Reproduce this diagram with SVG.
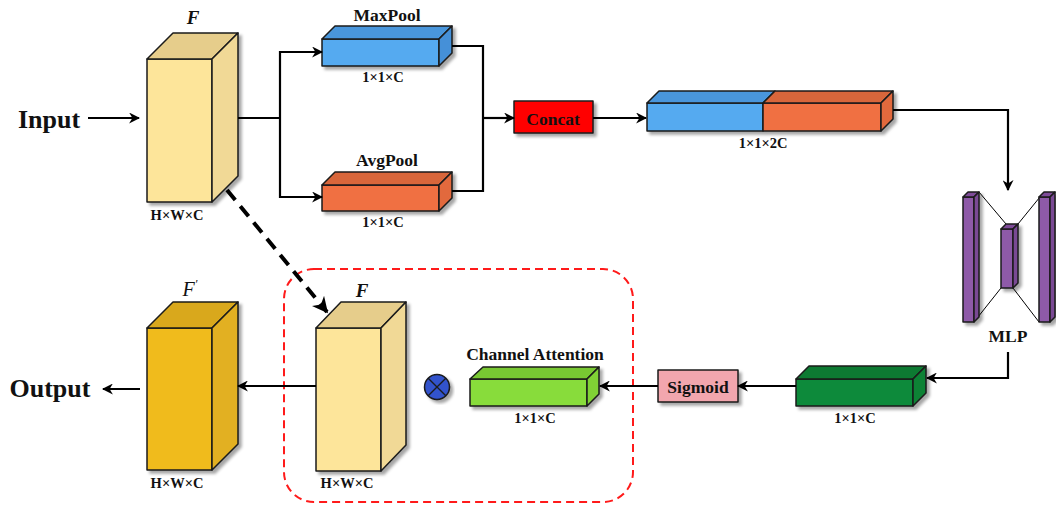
<svg xmlns="http://www.w3.org/2000/svg" width="1056" height="505" viewBox="0 0 1056 505">
<defs>
<filter id="sh" x="-20%" y="-20%" width="140%" height="140%"><feDropShadow dx="3" dy="3" stdDeviation="1.5" flood-color="#000" flood-opacity="0.35"/></filter>
<marker id="ah" viewBox="0 0 10 10" refX="9" refY="5" markerWidth="11" markerHeight="11" orient="auto" markerUnits="userSpaceOnUse"><path d="M0,0 L10,5 L0,10 L3,5 z" fill="#000"/></marker>
<marker id="ahb" viewBox="0 0 10 10" refX="9" refY="5" markerWidth="4" markerHeight="4" orient="auto"><path d="M0,0 L10,5 L0,10 L3,5 z" fill="#000"/></marker>
</defs>
<style>
.e{stroke:#1a1a1a;stroke-width:1.5;stroke-linejoin:round}
.t{font-family:"Liberation Serif",serif;font-weight:bold;fill:#111;text-anchor:middle}
.big{font-size:26px}
.lab{font-size:17.5px}
.dim{font-size:14.5px}
.it{font-style:italic;font-size:19px}
.c{fill:none;stroke:#000;stroke-width:2.2}
.thin{stroke:#000;stroke-width:1;fill:none}
</style>

<g id="input-label"><text class="t big" x="49" y="128">Input</text></g>
<g id="output-label"><text class="t big" x="50" y="397">Output</text></g>

<g id="cube-F-in" filter="url(#sh)">
<rect class="e" x="147" y="59" width="65" height="143" fill="#fde59a"/>
<polygon class="e" points="147,59 173,33 238,33 212,59" fill="#e6cd8b"/>
<polygon class="e" points="212,59 238,33 238,176 212,202" fill="#f1d996"/>
</g>
<text class="t it" x="193" y="24">F</text>
<text class="t dim" x="177" y="220">H×W×C</text>

<g id="maxpool" filter="url(#sh)">
<rect class="e" x="322" y="39" width="117" height="27" fill="#55aaf0"/>
<polygon class="e" points="322,39 335,26 452,26 439,39" fill="#4a96dc"/>
<polygon class="e" points="439,39 452,26 452,53 439,66" fill="#4590d8"/>
</g>
<text class="t lab" x="387" y="21">MaxPool</text>
<text class="t dim" x="383" y="82">1×1×C</text>

<g id="avgpool" filter="url(#sh)">
<rect class="e" x="322" y="185" width="117" height="26" fill="#f07042"/>
<polygon class="e" points="322,185 335,172 452,172 439,185" fill="#d8663a"/>
<polygon class="e" points="439,185 452,172 452,198 439,211" fill="#e2693d"/>
</g>
<text class="t lab" x="387" y="166">AvgPool</text>
<text class="t dim" x="383" y="227">1×1×C</text>

<g id="concat" filter="url(#sh)">
<rect class="e" x="514" y="101" width="79" height="32" fill="#ff0000"/>
</g>
<text class="t lab" x="553" y="125">Concat</text>

<g id="concat-out" filter="url(#sh)">
<rect class="e" x="647" y="103" width="116" height="28" fill="#55aaf0"/>
<rect class="e" x="763" y="103" width="118" height="28" fill="#f07042"/>
<polygon class="e" points="647,103 659,91 775,91 763,103" fill="#4a96dc"/>
<polygon class="e" points="763,103 775,91 893,91 881,103" fill="#d8663a"/>
<polygon class="e" points="881,103 893,91 893,119 881,131" fill="#e2693d"/>
</g>
<text class="t dim" x="763" y="148">1×1×2C</text>

<g id="mlp">
<line class="thin" x1="979" y1="192" x2="1006" y2="224"/>
<line class="thin" x1="974" y1="322" x2="1001" y2="288"/>
<line class="thin" x1="1018" y1="224" x2="1044" y2="192"/>
<line class="thin" x1="1013" y1="288" x2="1039" y2="322"/>
<g filter="url(#sh)">
<rect class="e" x="963" y="197" width="11" height="125" fill="#8e5aa8"/>
<polygon class="e" points="963,197 968,192 979,192 974,197" fill="#7e4c98"/>
<polygon class="e" points="974,197 979,192 979,317 974,322" fill="#7a4894"/>
<rect class="e" x="1001" y="229" width="12" height="59" fill="#8e5aa8"/>
<polygon class="e" points="1001,229 1006,224 1018,224 1013,229" fill="#7e4c98"/>
<polygon class="e" points="1013,229 1018,224 1018,283 1013,288" fill="#7a4894"/>
<rect class="e" x="1039" y="197" width="11" height="125" fill="#8e5aa8"/>
<polygon class="e" points="1039,197 1044,192 1055,192 1050,197" fill="#7e4c98"/>
<polygon class="e" points="1050,197 1055,192 1055,317 1050,322" fill="#7a4894"/>
</g>
<text class="t lab" x="1008" y="342">MLP</text>
</g>

<g id="mlp-out" filter="url(#sh)">
<rect class="e" x="796" y="379" width="117" height="27" fill="#0b8a3a"/>
<polygon class="e" points="796,379 809,366 926,366 913,379" fill="#097a33"/>
<polygon class="e" points="913,379 926,366 926,393 913,406" fill="#0a8236"/>
</g>
<text class="t dim" x="855" y="423">1×1×C</text>

<g id="sigmoid" filter="url(#sh)">
<rect class="e" x="658" y="370" width="80" height="32" fill="#f2a6ae"/>
</g>
<text class="t lab" x="698" y="393">Sigmoid</text>

<g id="channel-attention" filter="url(#sh)">
<rect class="e" x="470" y="379" width="117" height="27" fill="#88dc3a"/>
<polygon class="e" points="470,379 483,367 599,367 587,379" fill="#78c830"/>
<polygon class="e" points="587,379 599,367 599,394 587,406" fill="#80d236"/>
</g>
<text class="t lab" x="535" y="360">Channel Attention</text>
<text class="t dim" x="535" y="423">1×1×C</text>

<g id="multiply" filter="url(#sh)">
<circle cx="437" cy="387" r="12.5" fill="#3352cc" stroke="#1a1a1a" stroke-width="1.5"/>
<line x1="428.2" y1="378.2" x2="445.8" y2="395.8" stroke="#1a1a1a" stroke-width="1.3"/>
<line x1="445.8" y1="378.2" x2="428.2" y2="395.8" stroke="#1a1a1a" stroke-width="1.3"/>
</g>

<g id="cube-F-mid" filter="url(#sh)">
<rect class="e" x="316" y="328" width="65" height="143" fill="#fde59a"/>
<polygon class="e" points="316,328 341,302 406,302 381,328" fill="#e6cd8b"/>
<polygon class="e" points="381,328 406,302 406,445 381,471" fill="#f1d996"/>
</g>
<text class="t it" x="362" y="297">F</text>
<text class="t dim" x="347" y="488">H×W×C</text>

<g id="cube-F-out" filter="url(#sh)">
<rect class="e" x="147" y="328" width="65" height="142" fill="#f0bb1f"/>
<polygon class="e" points="147,328 173,302 238,302 212,328" fill="#d9a81b"/>
<polygon class="e" points="212,328 238,302 238,444 212,470" fill="#e2b021"/>
</g>
<text x="190" y="296" font-family="Liberation Serif, serif" font-style="italic" font-size="20" fill="#111" text-anchor="middle">F<tspan font-size="12" dy="-8">′</tspan></text>
<text class="t dim" x="177" y="488">H×W×C</text>

<g id="attention-box">
<rect x="284" y="269" width="349" height="233" rx="30" fill="none" stroke="#ff1a1a" stroke-width="2" stroke-dasharray="8,5"/>
</g>

<g id="connectors">
<line class="c" x1="88" y1="118" x2="139" y2="118" marker-end="url(#ah)"/>
<polyline class="c" points="238,118 280,118"/>
<polyline class="c" points="280,118 280,52 322,52" marker-end="url(#ah)"/>
<polyline class="c" points="280,118 280,197 322,197" marker-end="url(#ah)"/>
<polyline class="c" points="452,46 483,46 483,191 452,191"/>
<line class="c" x1="483" y1="118" x2="514" y2="118" marker-end="url(#ah)"/>
<line class="c" x1="593" y1="118" x2="646" y2="118" marker-end="url(#ah)"/>
<polyline class="c" points="893,110 1008,110 1008,190" marker-end="url(#ah)"/>
<polyline class="c" points="1008,352 1008,378 927,378" marker-end="url(#ah)"/>
<line class="c" x1="796" y1="386" x2="738" y2="386" marker-end="url(#ah)"/>
<line class="c" x1="658" y1="386" x2="600" y2="386" marker-end="url(#ah)"/>
<line class="c" x1="316" y1="386" x2="238" y2="386" marker-end="url(#ah)"/>
<line class="c" x1="140" y1="389" x2="103" y2="389" marker-end="url(#ah)"/>
<line x1="227" y1="190" x2="327" y2="312" stroke="#000" stroke-width="4" stroke-dasharray="13,8" marker-end="url(#ahb)"/>
</g>
</svg>
